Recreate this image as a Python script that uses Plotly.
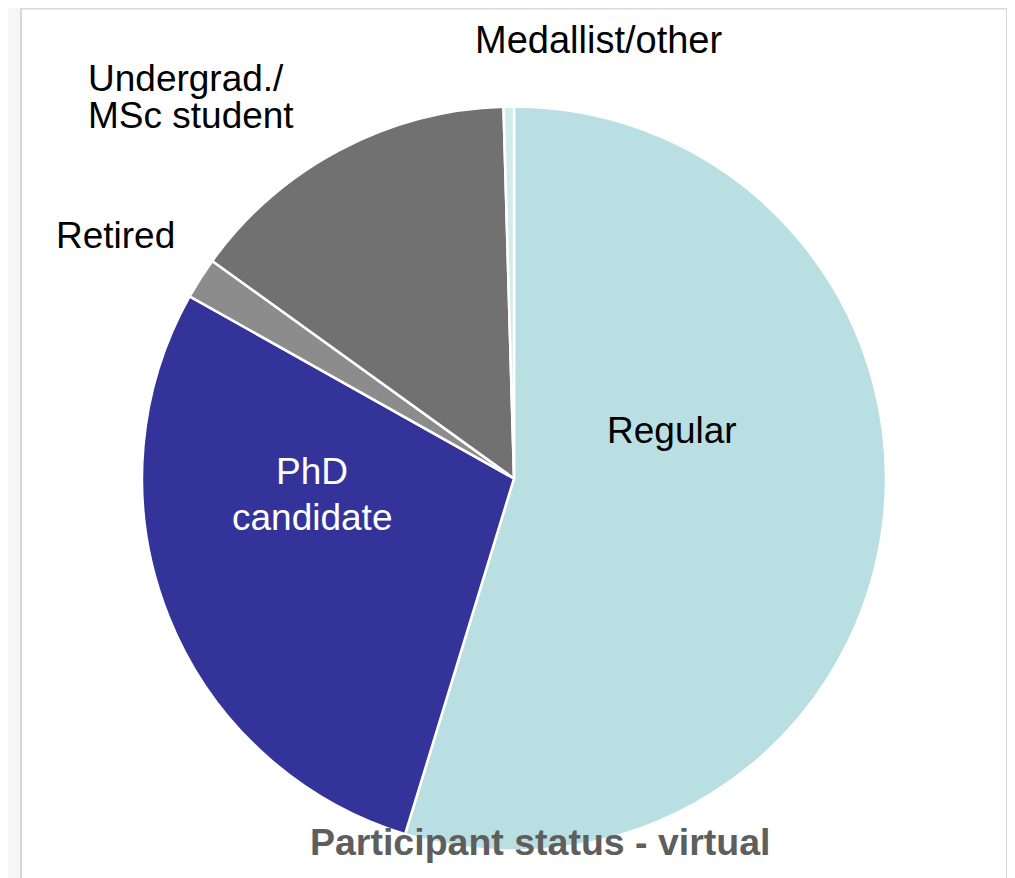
import plotly.graph_objects as go

# ---- data ----
categories = ["Regular", "PhD candidate", "Retired", "Undergrad./MSc student", "Medallist/other"]
shares = [54.7, 28.4, 1.8, 14.6, 0.45]
colors = ["#BADFE3", "#343399", "#8C8C8C", "#717171", "#D3EBED"]
title_text = "Participant status - virtual"

W, H = 1015, 878
OFF = 8  # page body margin


def px(x):
    return (x - OFF) / W


def py(y):
    return 1 - (y - OFF) / H


cx, cy, r = 514, 478.5, 372

fig = go.Figure(
    go.Pie(
        labels=categories,
        values=shares,
        sort=False,
        direction="clockwise",
        rotation=0,
        marker=dict(colors=colors, line=dict(color="white", width=2.5)),
        textinfo="none",
        hoverinfo="label+percent",
        showlegend=False,
        domain=dict(x=[px(cx - r), px(cx + r)], y=[py(cy + r), py(cy - r)]),
    )
)

font = "Liberation Sans, Arial, Helvetica, sans-serif"
ann = []


def label(text, x, y, color="black", anchor="center", size=37, bold=False):
    t = f"<b>{text}</b>" if bold else text
    ann.append(dict(text=t, x=px(x), y=py(y), xref="paper", yref="paper",
                    xanchor=anchor, yanchor="middle", showarrow=False,
                    font=dict(family=font, size=size, color=color)))


label("Medallist/other", 598, 40, size=38)
label("Undergrad./", 86, 79, anchor="left")
label("MSc student", 86, 115, anchor="left")
label("Retired", 54, 236, anchor="left")
label("Regular", 672, 430)
label("PhD", 312, 471, color="white")
label("candidate", 312, 517, color="white")
label(title_text, 540, 842, color="#5E5E5E", size=37.5, bold=True)

fig.update_layout(
    width=W, height=H,
    margin=dict(l=0, r=0, t=0, b=0),
    paper_bgcolor="#F6F6F6",
    plot_bgcolor="white",
    annotations=ann,
    shapes=[dict(type="rect", xref="paper", yref="paper",
                 x0=px(21), x1=px(1007), y0=-0.05, y1=py(8.5),
                 fillcolor="white", line=dict(color="#D8D8D8", width=2),
                 layer="below")],
)

fig.write_html("out.html")
